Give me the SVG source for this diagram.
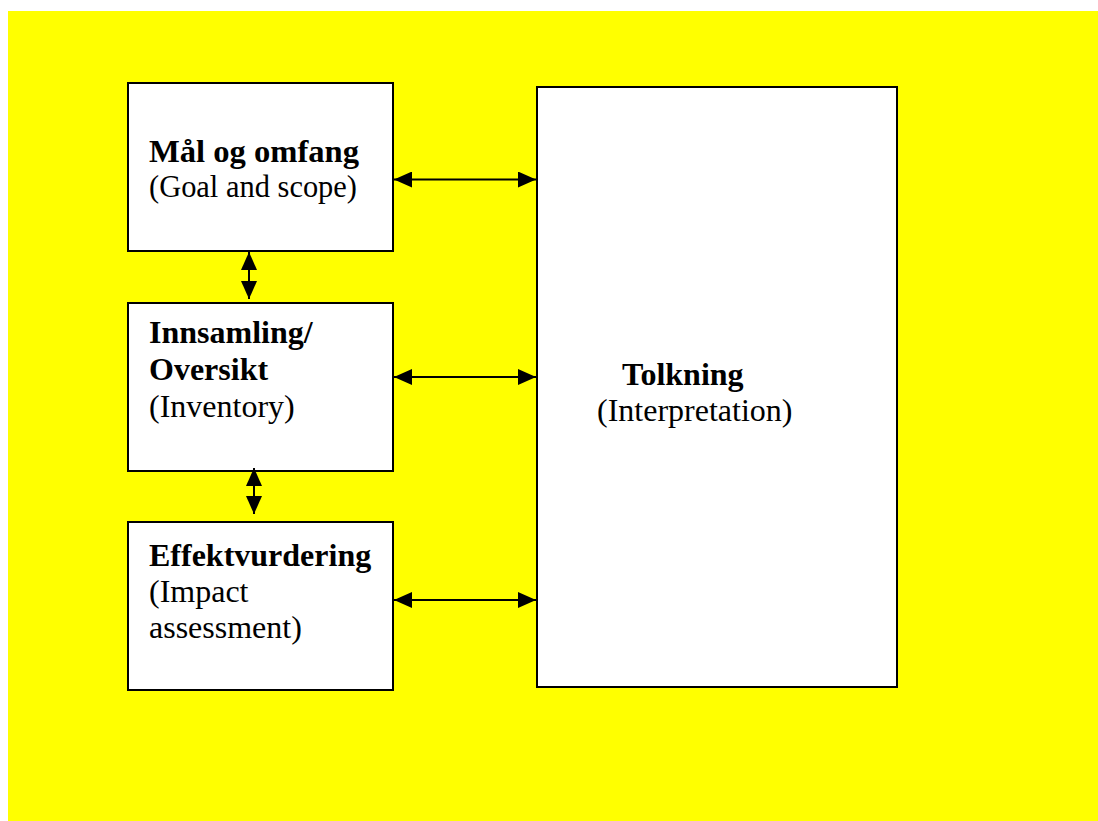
<svg xmlns="http://www.w3.org/2000/svg" width="1098" height="821" viewBox="0 0 1098 821">
<style>
.box{fill:#fff;stroke:#000;stroke-width:2}
.t{font-family:"Liberation Serif","Times New Roman","DejaVu Serif",serif;font-size:32px;fill:#000}
.b{font-weight:bold}
.c{stroke:#000;stroke-width:2;fill:none;marker-start:url(#ah);marker-end:url(#ah)}
</style>
<defs>
<marker id="ah" viewBox="0 0 18 16" refX="18" refY="8" markerWidth="18" markerHeight="16" markerUnits="userSpaceOnUse" orient="auto-start-reverse">
<path d="M0,0 L18,8 L0,16 Z" fill="#000"/>
</marker>
</defs>
<rect x="8" y="11" width="1090" height="810" fill="#ffff00"/>
<g id="node-goal">
<rect class="box" x="128" y="83" width="265" height="168"/>
<text class="t b" x="149" y="162" textLength="210" lengthAdjust="spacingAndGlyphs">Mål og omfang</text>
<text class="t" x="149" y="197" textLength="208" lengthAdjust="spacingAndGlyphs">(Goal and scope)</text>
</g>
<g id="node-inventory">
<rect class="box" x="128" y="303" width="265" height="168"/>
<text class="t b" x="149" y="343">Innsamling/</text>
<text class="t b" x="149" y="380">Oversikt</text>
<text class="t" x="149" y="417">(Inventory)</text>
</g>
<g id="node-impact">
<rect class="box" x="128" y="522" width="265" height="168"/>
<text class="t b" x="149" y="566">Effektvurdering</text>
<text class="t" x="149" y="602">(Impact</text>
<text class="t" x="149" y="638">assessment)</text>
</g>
<g id="node-interpretation">
<rect class="box" x="537" y="87" width="360" height="600"/>
<text class="t b" x="622" y="385">Tolkning</text>
<text class="t" x="597" y="421">(Interpretation)</text>
</g>
<g id="connectors">
<line class="c" x1="394" y1="179.5" x2="536" y2="179.5"/>
<line class="c" x1="394" y1="377" x2="536" y2="377"/>
<line class="c" x1="394" y1="600" x2="536" y2="600"/>
<line class="c" x1="249" y1="252" x2="249" y2="299"/>
<line class="c" x1="254" y1="468" x2="254" y2="514"/>
</g>
</svg>
